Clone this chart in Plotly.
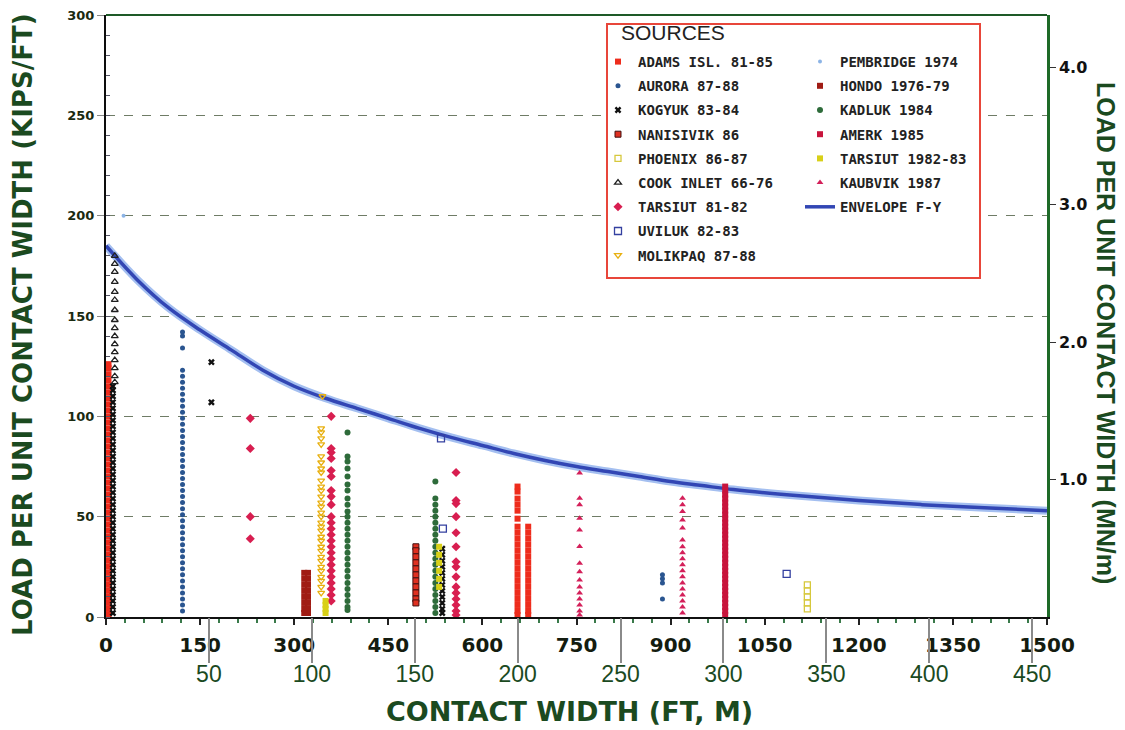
import plotly.graph_objects as go

# ---------------- axis ticks ----------------
FT_TICKS = [0, 150, 300, 450, 600, 750, 900, 1050, 1200, 1350, 1500]
M_TICKS = [50, 100, 150, 200, 250, 300, 350, 400, 450]
KIPS_TICKS = [0, 50, 100, 150, 200, 250, 300]
MN_TICKS = [1.0, 2.0, 3.0, 4.0]
MN_LABELS = ["1.0", "2.0", "3.0", "4.0"]
KIPS_TO_MN = 0.0145939
FT_TO_M = 0.3048

# ---------------- envelope curve (kips/ft vs ft) ----------------
ENV_FT = [0, 50, 100, 150, 200, 250, 300, 350, 400, 450, 500, 550, 600, 650, 700,
          750, 800, 850, 900, 950, 1000, 1100, 1200, 1300, 1400, 1500]
ENV_KIPS = [185, 168, 154, 143, 133, 123, 115, 109, 104, 99, 94, 89.5, 85.5, 81.5, 78,
            75, 72.5, 70, 67.5, 65.5, 63.5, 60.5, 58, 56, 54.5, 53]

# ---------------- field data: cluster widths (ft) and loads (kips/ft) ----------------
ADAMS_X = [4, 656, 673]
ADAMS_Y = [[1, 4, 7, 10, 13, 16, 19, 22, 25, 28, 31, 34, 37, 40, 43, 46, 49, 52, 55, 58, 61,
            64, 67, 70, 73, 76, 79, 82, 85, 88, 91, 94, 97, 100, 103, 106, 109, 112, 115,
            118, 121, 124, 126],
           [65, 62.5, 59, 56, 53, 49, 45, 42, 39, 36, 33, 30, 27, 24, 21, 18, 15, 12, 9, 6, 3, 1],
           [45, 42, 39, 36, 33, 30, 27, 24, 21, 18, 15, 12, 9, 6, 3, 1]]

AURORA_X = [122, 887]
AURORA_Y = [[142, 140, 134, 123, 120, 117, 114, 111, 108, 105, 102, 99, 96, 93, 90, 87, 84,
             81, 78, 75, 72, 69, 66, 63, 60, 57, 54, 51, 48, 45, 42, 39, 36, 33, 30, 27, 24,
             21, 18, 15, 12, 9, 6, 3],
            [21, 19, 17, 9]]

KOGYUK_X = [11, 168, 536]
KOGYUK_Y = [[2, 5, 8, 11, 14, 17, 20, 23, 26, 29, 32, 35, 38, 41, 44, 47, 50, 53, 56, 59, 62,
             65, 68, 71, 74, 77, 80, 83, 86, 89, 92, 95, 98, 101, 104, 107, 110, 113, 115],
            [127, 107],
            [34, 31, 28, 25, 22, 19, 16, 13, 10, 7, 4, 2]]

NANISIVIK_X = [494]
NANISIVIK_Y = [[35, 33, 30, 27, 24, 21, 18, 15, 12, 9, 7]]

PHOENIX_X = [1118]
PHOENIX_Y = [[16, 13, 10, 7, 4]]

COOK_X = [14]
COOK_Y = [[180, 176, 172, 167, 162, 158, 153, 148, 144, 140, 136, 132, 128, 124, 120, 117]]

TARSIUT81_X = [230, 359, 558]
TARSIUT81_Y = [[99, 84, 50, 39],
               [100, 84, 82, 79, 73, 70, 63, 60, 56, 50, 47, 44, 41, 38, 35, 32, 29, 26, 23,
                20, 17, 14, 11, 8],
               [72, 58, 56.5, 50, 42, 35, 27.5, 25, 20, 15, 12, 9, 6, 3, 1]]

UVILUK_X = [534, 537, 1085]
UVILUK_Y = [[89], [44], [21.5]]

MOLIKPAQ_X = [345, 343]
MOLIKPAQ_Y = [[110],
              [94, 92, 89, 86, 80, 77, 74, 72, 68, 65, 63, 60, 57, 55, 52, 50, 47, 45, 43, 40,
               38, 35, 33, 30, 28, 25, 23, 20, 18, 15, 12]]

PEMBRIDGE_X = [28]
PEMBRIDGE_Y = [[200]]

HONDO_X = [316, 322]
HONDO_Y = [[22, 19, 16, 13, 10, 7, 4, 2],
           [22, 19, 16, 13, 10, 7, 4, 2]]

KADLUK_X = [385, 525]
KADLUK_Y = [[92, 80, 77.5, 74, 70, 66, 63, 59, 56, 52.6, 50, 47, 44, 41, 38, 35, 32, 29, 26,
             23, 20, 17, 14, 11, 8, 5, 3.5],
            [67.5, 59, 56, 53, 50, 47, 44, 41, 38, 35, 32, 29, 26, 23, 20, 17, 14, 11, 8, 5, 2]]

AMERK_X = [987]
AMERK_Y = [[65, 63, 61, 59, 57, 55, 53, 51, 49, 47, 45, 43, 41, 39, 37, 35, 33, 31, 29, 27,
            25, 23, 21, 19, 17, 15, 13, 11, 9, 7, 5, 3, 1]]

TARSIUT82_X = [531, 350]
TARSIUT82_Y = [[35, 31, 27, 23, 19, 15], [8, 6, 4, 2]]

KAUBVIK_X = [755, 919]
KAUBVIK_Y = [[71.7, 59.2, 55.9, 49.2, 43.4, 35.1, 26.8, 22.6, 18.5, 15, 12, 9, 6, 3, 1],
             [59.2, 55.9, 52.6, 48.4, 44.4, 38.4, 35, 32, 29, 26, 23, 20, 17, 14, 11, 8, 5, 2]]


def expand(xs, yss):
    ox, oy = [], []
    for xv, ys in zip(xs, yss):
        ox += [xv] * len(ys)
        oy += list(ys)
    return ox, oy


# name, xs, ys, color, symbol, size, legend, rank, outline colour
SOURCES = [
    ("ADAMS ISL. 81-85", ADAMS_X, ADAMS_Y, "#ee2c1c", "square", 6, "legend", 1, None),
    ("AURORA 87-88", AURORA_X, AURORA_Y, "#2a5590", "circle", 5, "legend", 2, None),
    ("KOGYUK 83-84", KOGYUK_X, KOGYUK_Y, "#111111", "x", 6, "legend", 3, None),
    ("NANISIVIK 86", NANISIVIK_X, NANISIVIK_Y, "#e03020", "square", 6, "legend", 4, "#401010"),
    ("PHOENIX 86-87", PHOENIX_X, PHOENIX_Y, "#d6c83c", "square-open", 6, "legend", 5, None),
    ("COOK INLET 66-76", COOK_X, COOK_Y, "#202020", "triangle-up-open", 6, "legend", 6, None),
    ("TARSIUT 81-82", TARSIUT81_X, TARSIUT81_Y, "#d81e50", "diamond", 7, "legend", 7, None),
    ("UVILUK 82-83", UVILUK_X, UVILUK_Y, "#3440a0", "square-open", 7, "legend", 8, None),
    ("MOLIKPAQ 87-88", MOLIKPAQ_X, MOLIKPAQ_Y, "#e8b010", "triangle-down-open", 6, "legend", 9, None),
    ("PEMBRIDGE 1974", PEMBRIDGE_X, PEMBRIDGE_Y, "#8cb4e6", "circle", 4, "legend2", 1, None),
    ("HONDO 1976-79", HONDO_X, HONDO_Y, "#a01c14", "square", 6, "legend2", 2, None),
    ("KADLUK 1984", KADLUK_X, KADLUK_Y, "#2e6b3a", "circle", 6, "legend2", 3, None),
    ("AMERK 1985", AMERK_X, AMERK_Y, "#c8143c", "square", 6, "legend2", 4, None),
    ("TARSIUT 1982-83", TARSIUT82_X, TARSIUT82_Y, "#d8d018", "square", 6, "legend2", 5, None),
    ("KAUBVIK 1987", KAUBVIK_X, KAUBVIK_Y, "#d4205a", "triangle-up", 6, "legend2", 6, None),
]

fig = go.Figure()

# invisible copy of the envelope in metric units so the metric axes are drawn
fig.add_trace(go.Scatter(x=[v * FT_TO_M for v in ENV_FT], y=[v * KIPS_TO_MN for v in ENV_KIPS],
                         xaxis="x2", yaxis="y2", mode="lines", showlegend=False,
                         hoverinfo="skip", opacity=0, line=dict(width=0)))
# envelope: light halo + dark core
fig.add_trace(go.Scatter(x=ENV_FT, y=ENV_KIPS, mode="lines", showlegend=False, hoverinfo="skip",
                         line=dict(color="#a4bff0", width=8, shape="spline")))
fig.add_trace(go.Scatter(x=ENV_FT, y=ENV_KIPS, mode="lines", name="ENVELOPE F-Y",
                         legend="legend2", legendrank=7, legendgroup="env",
                         line=dict(color="#3246b4", width=3.5, shape="spline")))

for name, xs, ys, color, symbol, size, leg, rank, lc in SOURCES:
    px, py = expand(xs, ys)
    mk = dict(color=color, symbol=symbol, size=size)
    if lc:
        mk["line"] = dict(color=lc, width=1)
    elif "open" in symbol:
        mk["line"] = dict(color=color, width=1.3)
    else:
        mk["line"] = dict(width=0)
    fig.add_trace(go.Scatter(x=px, y=py, mode="markers", name=name, marker=mk,
                             legend=leg, legendrank=rank, legendgroup=name))

# page-pixel geometry (the page body adds an 8 px offset)
OFF = 8
W, H = 1125 - OFF, 730 - OFF
PL, PR, PT, PB = 106, 1047, 15, 617


def px_x(p):
    return (p - PL) / (PR - PL)


def px_y(p):
    return (PB - p) / (PB - PT)


GREEN = "#1b4a1f"
LEGFONT = dict(family="DejaVu Sans Mono", size=14, color="#222", weight="bold")

fig.update_layout(
    width=W, height=H,
    margin=dict(l=PL - OFF, r=W - (PR - OFF), t=PT - OFF, b=H - (PB - OFF), autoexpand=False),
    paper_bgcolor="white", plot_bgcolor="white",
    xaxis=dict(range=[0, 1500], tickvals=FT_TICKS, ticktext=[str(v) for v in FT_TICKS],
               automargin=False,
               ticks="outside", ticklen=6, tickwidth=1.5, tickcolor="#222",
               tickfont=dict(family="DejaVu Sans", size=20, color="#141c10", weight="bold"),
               ticklabelstandoff=3, ticklabeloverflow="allow",
               showline=True, linecolor="#111", linewidth=2, showgrid=False, zeroline=False,
               minor=dict(dtick=30, ticks="outside", ticklen=4, tickcolor="#3a7a4a", showgrid=False)),
    xaxis2=dict(range=[0, 1500 * FT_TO_M], overlaying="x", anchor="y", side="bottom",
                tickvals=M_TICKS, ticktext=[str(v) for v in M_TICKS], automargin=False,
                ticks="outside", ticklen=45, tickwidth=1.5, tickcolor="#8a8a8a",
                tickfont=dict(family="Liberation Sans", size=23, color=GREEN),
                ticklabelstandoff=-9, ticklabeloverflow="allow",
                showline=False, showgrid=False, zeroline=False),
    yaxis=dict(range=[0, 300], tickvals=KIPS_TICKS, ticktext=[str(v) for v in KIPS_TICKS],
               automargin=False,
               ticks="outside", ticklen=7, tickwidth=1, tickcolor="#888",
               tickfont=dict(family="DejaVu Sans", size=13, color="#1a2a10", weight="bold"),
               ticklabelstandoff=0, ticklabeloverflow="allow",
               showgrid=True, gridcolor="#6f7c66", griddash="dash", gridwidth=1.3,
               showline=True, linecolor="#0d0d0d", linewidth=2, zeroline=False,
               minor=dict(dtick=10, ticks="inside", ticklen=4, tickcolor="#556", showgrid=False)),
    yaxis2=dict(range=[0, 300 * KIPS_TO_MN], overlaying="y", anchor="x", side="right",
                tickvals=MN_TICKS, ticktext=MN_LABELS, automargin=False,
                ticks="outside", ticklen=6, tickwidth=1, tickcolor="#333",
                tickfont=dict(family="DejaVu Sans", size=16, color="#111", weight="bold"),
                ticklabeloverflow="allow",
                showline=True, linecolor="#1e6a28", linewidth=2.5, showgrid=False, zeroline=False),
    legend=dict(x=px_x(598), y=px_y(46), xanchor="left", yanchor="top",
                bgcolor="rgba(0,0,0,0)", borderwidth=0, tracegroupgap=3, itemwidth=30,
                font=LEGFONT),
    legend2=dict(x=px_x(800), y=px_y(46), xanchor="left", yanchor="top",
                 bgcolor="rgba(0,0,0,0)", borderwidth=0, tracegroupgap=3, itemwidth=30,
                 font=LEGFONT),
    shapes=[
        dict(type="rect", xref="paper", yref="paper", x0=px_x(607), x1=px_x(980),
             y0=px_y(278), y1=px_y(24), line=dict(color="#e8463a", width=2),
             fillcolor="white", layer="above"),
        dict(type="line", xref="paper", yref="paper", x0=0, x1=1, y0=1, y1=1,
             line=dict(color="#1e5a28", width=2)),
    ],
    annotations=[
        dict(text="LOAD PER UNIT CONTACT WIDTH (KIPS/FT)", xref="paper", yref="paper",
             x=px_x(23), y=px_y(325), textangle=-90, showarrow=False,
             xanchor="center", yanchor="middle",
             font=dict(family="DejaVu Sans", size=26, color=GREEN, weight="bold")),
        dict(text="LOAD PER UNIT CONTACT WIDTH (MN/m)", xref="paper", yref="paper",
             x=px_x(1106), y=px_y(333), textangle=90, showarrow=False,
             xanchor="center", yanchor="middle",
             font=dict(family="Liberation Sans", size=25, color=GREEN, weight="bold")),
        dict(text="CONTACT WIDTH (FT, M)", xref="paper", yref="paper",
             x=px_x(569), y=px_y(711), showarrow=False, xanchor="center", yanchor="middle",
             font=dict(family="DejaVu Sans", size=27, color=GREEN, weight="bold")),
        dict(text="SOURCES", xref="paper", yref="paper", x=px_x(619), y=px_y(32),
             showarrow=False, xanchor="left", yanchor="middle",
             font=dict(family="Liberation Sans", size=21, color="#222")),
    ],
)

fig.write_html("out.html")
